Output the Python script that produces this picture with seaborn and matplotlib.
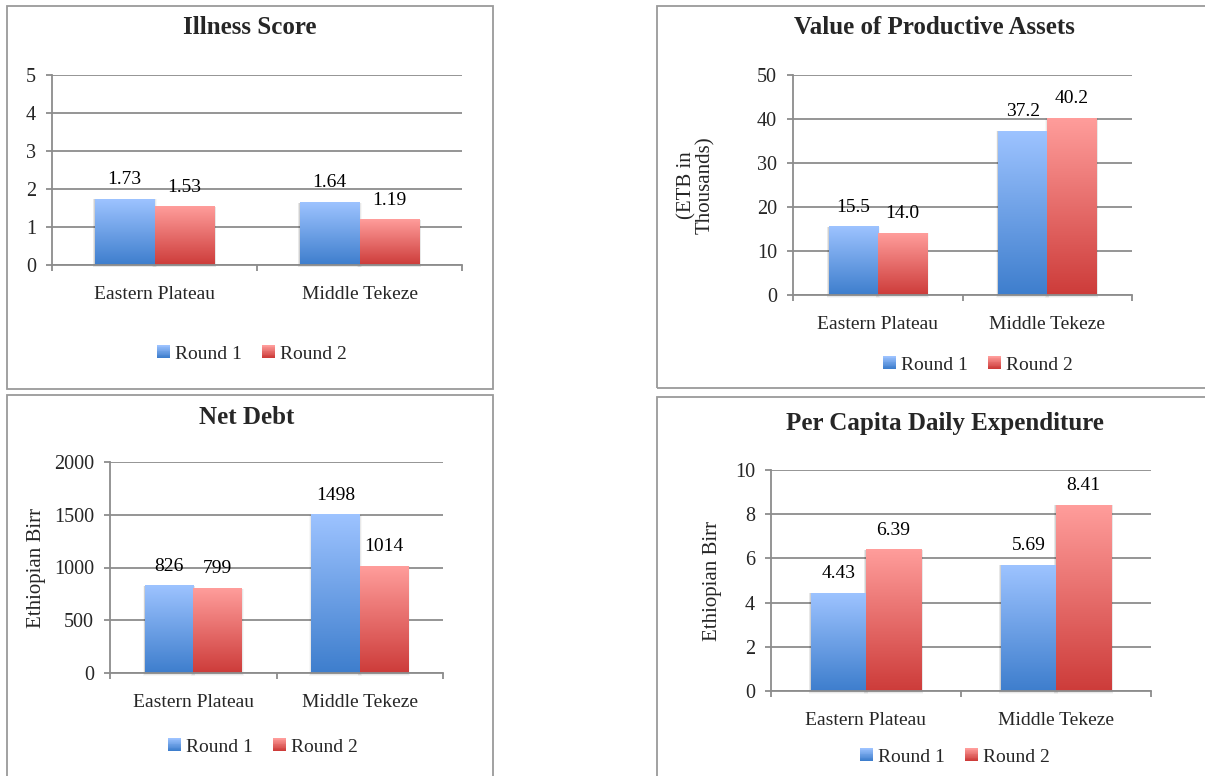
import numpy as np
import pandas as pd
import matplotlib
matplotlib.use("Agg")
import matplotlib.pyplot as plt
from matplotlib.patches import Rectangle, Patch
from matplotlib.legend_handler import HandlerBase
import seaborn as sns

# ---- data -------------------------------------------------------------
regions = ["Eastern Plateau", "Middle Tekeze"]
rounds = ["Round 1", "Round 2"]

illness_r1 = [1.73, 1.64]
illness_r2 = [1.53, 1.19]

assets_r1 = [15.5, 37.2]
assets_r2 = [14.0, 40.2]

debt_r1 = [826, 1498]
debt_r2 = [799, 1014]

spend_r1 = [4.43, 5.69]
spend_r2 = [6.39, 8.41]

# ---- style ------------------------------------------------------------
sns.set_style("white")
plt.rcParams["font.family"] = ["Liberation Serif", "DejaVu Serif"]

W, H = 1205, 776
GRID = "#8c8c8c"
BLUE_TOP, BLUE_BOT = np.array([157, 195, 255]) / 255, np.array([62, 126, 205]) / 255
RED_TOP, RED_BOT = np.array([255, 157, 155]) / 255, np.array([205, 60, 58]) / 255
MID = {"Round 1": tuple((BLUE_TOP + BLUE_BOT) / 2), "Round 2": tuple((RED_TOP + RED_BOT) / 2)}
GRAD = {"Round 1": (BLUE_TOP, BLUE_BOT), "Round 2": (RED_TOP, RED_BOT)}

fig = plt.figure(figsize=(W / 100, H / 100), dpi=100)


def fx(px):
    return px / W


def fy(py):
    return 1 - py / H


def gradient_array(top, bot, n=128):
    t = np.linspace(0, 1, n)[:, None]
    return (top[None, :] * (1 - t) + bot[None, :] * t)[:, None, :]


class GradientSquare(HandlerBase):
    def __init__(self, top, bot, n=16):
        super().__init__()
        self.top, self.bot, self.n = top, bot, n

    def create_artists(self, legend, orig_handle, xdescent, ydescent,
                       width, height, fontsize, trans):
        s = min(width, height)
        x0 = -xdescent + (width - s) / 2
        y0 = -ydescent + (height - s) / 2
        arts = []
        for i in range(self.n):
            f = i / (self.n - 1)
            c = self.top * (1 - f) + self.bot * f
            r = Rectangle((x0, y0 + s * (1 - (i + 1) / self.n)), s, s / self.n + 0.3,
                          facecolor=c, edgecolor="none", transform=trans)
            arts.append(r)
        return arts


def panel(box, ax_px, title, title_xy, r1, r2, ymax, ystep, fmt,
          legend_xy, ylabel=None, ylabel_xy=None):
    # outer frame
    x0, y0, x1, y1 = box
    fig.add_artist(Rectangle((fx(x0), fy(y1)), fx(x1 - x0), (y1 - y0) / H,
                             transform=fig.transFigure, fill=False,
                             edgecolor="#9a9a9a", linewidth=1.3))
    l, t, r, b = ax_px
    ax = fig.add_axes([fx(l), fy(b), fx(r - l), (b - t) / H])

    df = pd.DataFrame({
        "region": regions * 2,
        "round": [rounds[0]] * 2 + [rounds[1]] * 2,
        "value": list(r1) + list(r2),
    })
    sns.barplot(data=df, x="region", y="value", hue="round", order=regions,
                hue_order=rounds, palette=MID, width=0.58, saturation=1,
                legend=False, ax=ax, linewidth=0, edgecolor="none", errorbar=None)

    # gradient fill for every bar, plus value label
    for p in list(ax.patches):
        fc = p.get_facecolor()[:3]
        key = min(MID, key=lambda k: np.sum((np.array(MID[k]) - np.array(fc)) ** 2))
        bx, bw, bh = p.get_x(), p.get_width(), p.get_height()
        top, bot = GRAD[key]
        # soft shadow
        for k, a in enumerate([0.10, 0.06, 0.03]):
            ax.add_patch(Rectangle((bx - 0.004 * (k + 1), -ymax * 0.004 * (k + 1)),
                                   bw + 0.008 * (k + 1), bh + ymax * 0.004 * (k + 1),
                                   facecolor="black", alpha=a, edgecolor="none",
                                   zorder=1.5, clip_on=False))
        ax.imshow(gradient_array(top, bot), extent=(bx, bx + bw, 0, bh),
                  aspect="auto", zorder=2, interpolation="bilinear")
        p.set_visible(False)
        ax.annotate(fmt.format(bh), (bx + bw / 2, bh), xytext=(0, 11),
                    textcoords="offset points", ha="center", va="baseline",
                    fontsize=14, color="black")

    ax.set_xlim(-0.5, 1.5)
    ax.set_ylim(0, ymax)
    ax.set_yticks(np.arange(0, ymax + ystep / 2, ystep))
    ax.set_xticks([0, 1])
    ax.set_xticklabels(regions)
    ax.set_xticks([-0.5, 0.5, 1.5], minor=True)
    ax.set_xlabel("")
    ax.set_ylabel("")
    ax.set_axisbelow(True)
    ax.grid(axis="y", color=GRID, linewidth=1.3)
    ax.grid(axis="x", visible=False)
    for s in ["top", "right"]:
        ax.spines[s].set_visible(False)
    for s in ["left", "bottom"]:
        ax.spines[s].set_color(GRID)
        ax.spines[s].set_linewidth(1.3)
    ax.tick_params(axis="y", which="major", direction="out", length=4.5,
                   width=1.3, color=GRID, labelsize=14.5, pad=7, left=True)
    ax.tick_params(axis="x", which="major", length=0, labelsize=14, pad=15)
    ax.tick_params(axis="x", which="minor", direction="out", length=4.5,
                   width=1.3, color=GRID, bottom=True)
    ax.set_facecolor("none")

    fig.text(fx(title_xy[0]), fy(title_xy[1]), title, ha="center", va="center",
             fontsize=18, fontweight="bold")
    if ylabel:
        fig.text(fx(ylabel_xy[0]), fy(ylabel_xy[1]), ylabel, rotation=90,
                 ha="center", va="center", fontsize=15, linespacing=1.0,
                 multialignment="center")

    h1, h2 = Patch(), Patch()
    ax.legend([h1, h2], rounds, loc="center",
              bbox_to_anchor=(fx(legend_xy[0]), fy(legend_xy[1])),
              bbox_transform=fig.transFigure, ncol=2, frameon=False,
              fontsize=14, handlelength=0.66, handleheight=0.66,
              handletextpad=0.3, columnspacing=1.0,
              handler_map={h1: GradientSquare(BLUE_TOP, BLUE_BOT),
                           h2: GradientSquare(RED_TOP, RED_BOT)})
    return ax


panel((7, 6, 493, 389), (52, 75, 462, 265), "Illness Score", (250, 28),
      illness_r1, illness_r2, 5, 1, "{:.2f}", (252, 354))

panel((657, 6, 1215, 388), (793, 75, 1132, 295), "Value of Productive Assets",
      (934, 28), assets_r1, assets_r2, 50, 10, "{:.1f}", (978, 365),
      ylabel="(ETB in\nThousands)", ylabel_xy=(696, 185))

panel((7, 395, 493, 785), (110, 462, 443, 673), "Net Debt", (247, 417),
      debt_r1, debt_r2, 2000, 500, "{:.0f}", (263, 747),
      ylabel="Ethiopian Birr", ylabel_xy=(37, 568))

panel((657, 397, 1215, 785), (771, 470, 1151, 691), "Per Capita Daily Expenditure",
      (945, 424), spend_r1, spend_r2, 10, 2, "{:.2f}", (955, 757),
      ylabel="Ethiopian Birr", ylabel_xy=(713, 581))

fig.savefig("out.png", dpi=100, facecolor="white")
